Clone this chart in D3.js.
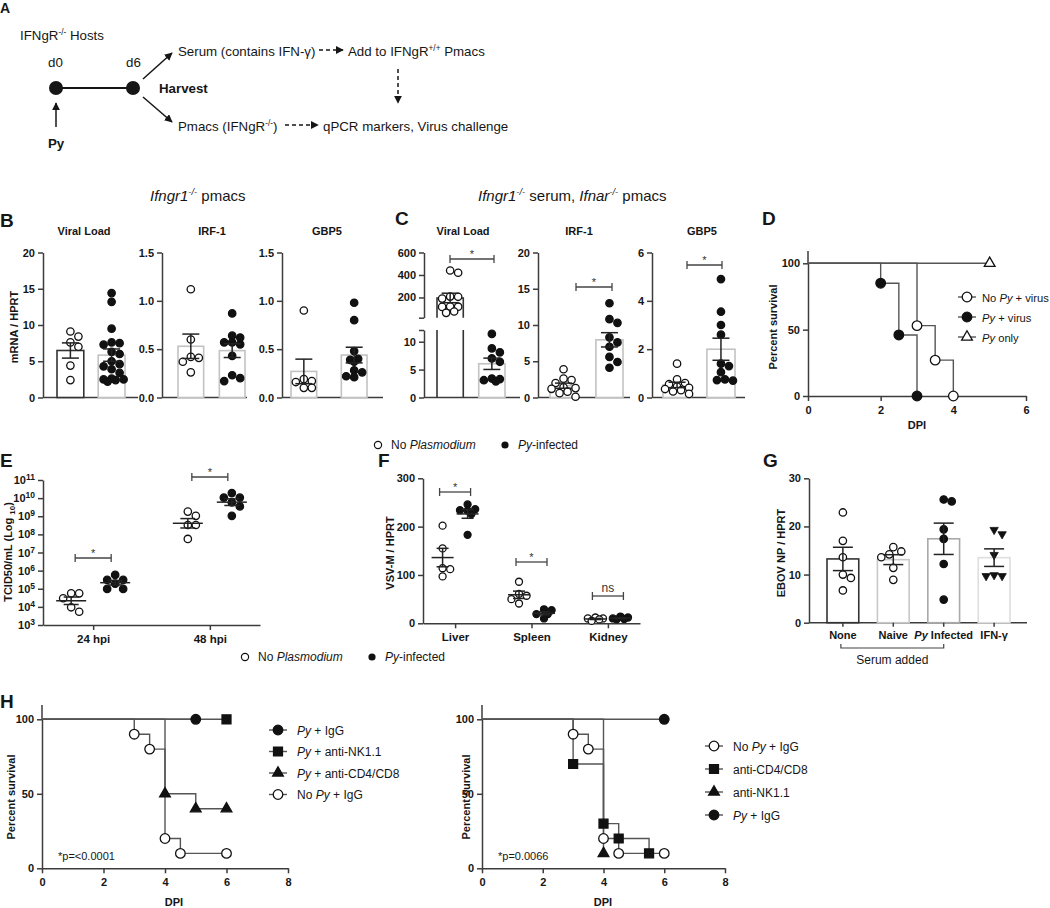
<!DOCTYPE html>
<html><head><meta charset="utf-8">
<script src="https://cdn.jsdelivr.net/npm/d3@7/dist/d3.min.js"></script>
<style>html,body{margin:0;padding:0;background:#fff;} svg{display:block;} text{white-space:pre;}</style>
</head><body>
<svg id="fig" width="1050" height="908"></svg>
<script>
// ================= DATA =================
const groupNames = ["No Plasmodium", "Py-infected"];
const markerTitles = ["Viral Load", "IRF-1", "GBP5"];
// B: Ifngr1-/- pmacs (mRNA / HPRT)
const bViralNo = [9.1, 8.4, 7.6, 7.0, 4.4, 2.4];
const bViralPy = [14.4, 13.2, 9.5, 7.6, 7.5, 7.3, 6.3, 6.0, 5.0, 4.6, 4.3, 3.9, 3.4, 2.6, 2.5, 2.5, 2.4, 2.2];
const bIrfNo = [1.12, 0.60, 0.42, 0.41, 0.37, 0.26];
const bIrfPy = [0.87, 0.64, 0.62, 0.57, 0.57, 0.55, 0.43, 0.23, 0.20, 0.17];
const bGbpNo = [0.90, 0.19, 0.17, 0.16, 0.10, 0.10];
const bGbpPy = [0.98, 0.80, 0.48, 0.40, 0.39, 0.37, 0.28, 0.26, 0.22, 0.21];
const bTicksViral = [0, 5, 10, 15, 20];
const bTicksRatio = [0, 0.5, 1.0, 1.5];
// C: Ifngr1-/- serum, Ifnar-/- pmacs
const cViralNo = [440, 420, 208, 206, 190, 120, 118, 116, 75, 63];
const cViralPy = [11.4, 8.8, 8.1, 7.0, 6.4, 3.4, 3.3, 3.1, 2.9];
const cIrfNo = [3.9, 2.6, 2.4, 2.0, 1.4, 1.3, 1.2, 0.8, 0.6, 0.1];
const cIrfPy = [13.0, 10.8, 10.3, 8.3, 7.6, 7.0, 5.6, 4.9, 4.1];
const cGbpNo = [1.4, 0.75, 0.6, 0.55, 0.45, 0.4, 0.35, 0.3, 0.25, 0.15];
const cGbpPy = [4.9, 3.55, 3.0, 2.6, 1.4, 1.3, 1.05, 0.75, 0.72, 0.7];
const cTicksViralUpper = [200, 400, 600];
const cTicksViralLower = [0, 5, 10];
const cTicksIrf = [0, 5, 10, 15, 20];
const cTicksGbp = [0, 2, 4, 6];
// D: survival
const dLabels = ["No Py + virus", "Py + virus", "Py only"];
const dNoPyDays = [0, 3, 3.5, 4],   dNoPySurv = [100, 53, 27, 0];
const dPyVirDays = [0, 2, 2.5, 3],  dPyVirSurv = [100, 85, 46, 0];
const dPyOnlyDays = [0, 5],         dPyOnlySurv = [100, 100];
const survTicksY = [0, 50, 100];
const dTicksX = [0, 2, 4, 6];
// E: TCID50/mL
const eCats = ["24 hpi", "48 hpi"];
const eNo24 = [56000, 56000, 30000, 9500, 5400];
const ePy24 = [580000, 310000, 310000, 190000, 98000, 98000];
const eNo48 = [1.8e9, 1.05e9, 3.3e8, 3.3e8, 5.6e7];
const ePy48 = [1.9e10, 1.07e10, 1.07e10, 5.8e9, 3.5e9, 1.05e9];
const eTickExps = [3, 4, 5, 6, 7, 8, 9, 10, 11];
const eSig = ["*", "*"];
// F: VSV-M / HPRT
const fCats = ["Liver", "Spleen", "Kidney"];
const fNoLiver = [202, 155, 114, 112, 97],  fPyLiver = [246, 236, 234, 233, 226, 183];
const fNoSpleen = [86, 61, 57, 50, 41],     fPySpleen = [29, 27, 19, 19, 10];
const fNoKidney = [12, 10, 10, 8, 5],       fPyKidney = [14, 12, 10, 9, 8];
const fTicks = [0, 100, 200, 300];
const fSig = ["*", "*", "ns"];
// G: EBOV NP / HPRT
const gCats = ["None", "Naive", "Py Infected", "IFN-γ"];
const gNone = [22.9, 17.0, 13.6, 10.0, 9.3, 6.7];
const gNaive = [15.7, 14.8, 14.2, 13.6, 11.4, 8.9];
const gPy = [25.6, 25.2, 19.4, 17.4, 12.2, 4.8];
const gIfn = [19.3, 18.4, 14.1, 9.9, 9.7, 9.7];
const gTicks = [0, 10, 20, 30];
// H: survival
const hTicksX = [0, 2, 4, 6, 8];
const hlLabels = ["Py + IgG", "Py + anti-NK1.1", "Py + anti-CD4/CD8", "No Py + IgG"];
const hlPyIgGDays = [0, 5],                    hlPyIgGSurv = [100, 100];
const hlNKDays = [0, 6],                       hlNKSurv = [100, 100];
const hlCDDays = [0, 4, 5, 6],                 hlCDSurv = [100, 50, 40, 40];
const hlNoPyDays = [0, 3, 3.5, 4, 4.5, 6],     hlNoPySurv = [100, 90, 80, 20, 10, 10];
const hlP = "*p=<0.0001";
const hrLabels = ["No Py + IgG", "anti-CD4/CD8", "anti-NK1.1", "Py + IgG"];
const hrNoPyDays = [0, 3, 3.5, 4, 4.5, 6],     hrNoPySurv = [100, 90, 80, 20, 10, 10];
const hrCDDays = [0, 3, 4, 4.5, 5.5],          hrCDSurv = [100, 70, 30, 20, 10];
const hrNKDays = [0, 4],                       hrNKSurv = [100, 10];
const hrPyIgGDays = [0, 6],                    hrPyIgGSurv = [100, 100];
const hrP = "*p=0.0066";

// ================= HELPERS =================
const svg = d3.select("#fig");
const FONT = '"Liberation Sans", Arial, Helvetica, sans-serif';
const AX = "#3c3c3c", INK = "#161616", SURV = "#555";
const DARK = "#333", LIGHT = "#c2c2c2";

function txt(x, y, parts, o = {}) {
  const size = o.size || 12;
  const t = svg.append("text").attr("x", x).attr("y", y).attr("font-family", FONT)
    .attr("font-size", size).attr("fill", o.fill || INK).attr("text-anchor", o.anchor || "start")
    .attr("font-weight", o.bold ? "bold" : "normal");
  if (o.rotate) t.attr("transform", `rotate(-90,${x},${y})`);
  let shift = 0;
  (typeof parts === "string" ? [[parts, ""]] : parts).forEach(([s, st = ""]) => {
    const f = st.split(" ");
    const ts = t.append("tspan").text(s);
    let target = 0;
    if (f.includes("sup")) { target = -size * 0.4; ts.attr("font-size", size * 0.62); }
    if (f.includes("sub")) { target = size * 0.25; ts.attr("font-size", size * 0.72); }
    if (target !== shift) { ts.attr("dy", target - shift); shift = target; }
    if (f.includes("i")) ts.attr("font-style", "italic");
  });
  return t;
}
function pyParts(label) {
  return label.split(/(Py)/).filter(s => s.length).map(s => [s, s === "Py" ? "i" : ""]);
}
function styleAxis(g, size = 11) {
  g.attr("font-family", FONT).attr("font-size", size).attr("font-weight", "bold");
  g.select(".domain").attr("stroke", AX).attr("stroke-width", 1.5);
  g.selectAll(".tick line").attr("stroke", AX).attr("stroke-width", 1.5);
  g.selectAll(".tick text").attr("fill", INK);
  return g;
}
function yAxis(x, scale, ticks, fmt, o = {}) {
  const g = svg.append("g").attr("transform", `translate(${x},0)`)
    .call(d3.axisLeft(scale).tickValues(ticks).tickFormat(fmt).tickSizeOuter(0).tickSizeInner(o.tick || 5).tickPadding(3));
  return styleAxis(g, o.size || 11);
}
function hLine(x1, x2, y, color = AX, w = 1.5) {
  svg.append("line").attr("x1", x1).attr("x2", x2).attr("y1", y).attr("y2", y).attr("stroke", color).attr("stroke-width", w);
}
function stats(v) { return { m: d3.mean(v), s: d3.deviation(v) / Math.sqrt(v.length) }; }
// deterministic swarm: each point takes the nearest free horizontal slot within maxHalf
function swarm(vals, y, cx, r, maxHalf, gap = 0.6) {
  const pts = vals.map(v => ({ v, py: y(v) })).sort((a, b) => a.py - b.py);
  const placed = [], d = 2 * r + gap;
  const cands = [0];
  for (let k = 1; k < 30; k++) { const o = k * d / 2; if (o > maxHalf + 0.01) break; cands.push(o, -o); }
  pts.forEach(p => {
    let best = null, bestD = -1;
    for (const c of cands) {
      const px = cx + c;
      const md = placed.length ? d3.min(placed, q => Math.hypot(q.px - px, q.py - p.py)) : Infinity;
      if (md >= d - 0.01) { best = px; break; }
      if (md > bestD + 0.5) { bestD = md; best = px; }
    }
    p.px = best;
    placed.push(p);
  });
  return pts;
}
function drawPts(g, pts, filled, r, shape) {
  if (shape === "invTri") {
    g.selectAll(null).data(pts).join("path")
      .attr("d", d3.symbol().type(d3.symbolTriangle).size(30)())
      .attr("transform", d => `translate(${d.px},${d.py}) rotate(180)`)
      .attr("fill", "#111").attr("stroke", "#111").attr("stroke-width", 0.8);
    return;
  }
  g.selectAll(null).data(pts).join("circle").attr("cx", d => d.px).attr("cy", d => d.py).attr("r", r)
    .attr("fill", filled ? "#111" : "#fff").attr("stroke", "#111").attr("stroke-width", 1.3);
}
function errBar(g, cx, y, st, capW, meanW) {
  const col = "#222";
  const yT = y(st.m + st.s), yB = y(Math.max(st.m - st.s, y.domain()[0]));
  g.append("line").attr("x1", cx).attr("x2", cx).attr("y1", yT).attr("y2", yB).attr("stroke", col).attr("stroke-width", 1.5);
  [yT, yB].forEach(yy => g.append("line").attr("x1", cx - capW / 2).attr("x2", cx + capW / 2).attr("y1", yy).attr("y2", yy).attr("stroke", col).attr("stroke-width", 1.5));
  if (meanW) g.append("line").attr("x1", cx - meanW / 2).attr("x2", cx + meanW / 2).attr("y1", y(st.m)).attr("y2", y(st.m)).attr("stroke", col).attr("stroke-width", 1.5);
}
function bracket(x1, x2, y, label) {
  hLine(x1, x2, y, "#444", 1.3);
  [x1, x2].forEach(x => svg.append("line").attr("x1", x).attr("x2", x).attr("y1", y - 4).attr("y2", y + 4).attr("stroke", "#444").attr("stroke-width", 1.3));
  txt((x1 + x2) / 2, label === "*" ? y - 1 : y - 4, label, { size: label === "*" ? 11 : 12, anchor: "middle", fill: "#333" });
}
function panelLetter(x, y, s, size = 19) { txt(x, y, s, { bold: true, size }); }
function axisTitle(x, y, parts) { txt(x, y, parts, { bold: true, size: 11, anchor: "middle", rotate: true }); }

// bar + dot subplot
function barPanel(c) {
  const y = d3.scaleLinear().domain(c.domain).range([c.yBot, c.yTop]);
  yAxis(c.axisX, y, c.ticks, c.fmt);
  hLine(c.axisX, c.axisEnd, c.yBot);
  const xb = d3.scaleBand().domain(c.series.map((s, i) => i)).range(c.barRange).paddingInner(c.pad);
  const g = svg.append("g");
  const r = c.r || 3.7;
  const half = xb.bandwidth() / 2 - r * 0.3;
  c.series.forEach((s, i) => {
    const st = stats(s.vals);
    g.append("rect").attr("x", xb(i)).attr("y", y(st.m)).attr("width", xb.bandwidth()).attr("height", c.yBot - y(st.m))
      .attr("fill", "#fff").attr("stroke", s.stroke).attr("stroke-width", 1.6);
  });
  c.series.forEach((s, i) => drawPts(g, swarm(s.vals, y, xb(i) + xb.bandwidth() / 2, r, half), s.filled, r, s.shape));
  c.series.forEach((s, i) => errBar(g, xb(i) + xb.bandwidth() / 2, y, stats(s.vals), c.capW || 17));
  if (c.title) txt(c.titleX, c.titleY, c.title, { bold: true, size: 11, anchor: "middle" });
  return { y, xb };
}

function sym(x, y, shape, filled) {
  const sizes = { circle: 72, square: 80, triangle: 50 };
  const types = { circle: d3.symbolCircle, square: d3.symbolSquare, triangle: d3.symbolTriangle };
  svg.append("path").attr("d", d3.symbol().type(types[shape]).size(sizes[shape])())
    .attr("transform", `translate(${x},${y})`)
    .attr("fill", filled ? "#111" : "#fff").attr("stroke", "#111").attr("stroke-width", 1.3);
}
// survival subplot
function survPanel(c) {
  const x = d3.scaleLinear().domain([0, c.xmax]).range([c.x0, c.x1]);
  const y = d3.scaleLinear().domain([0, 100]).range([c.yBot, c.yTop]);
  yAxis(c.x0, y, survTicksY, d3.format("d"));
  svg.append("line").attr("x1", c.x0).attr("x2", c.x0).attr("y1", c.yTop).attr("y2", c.axisTop).attr("stroke", AX).attr("stroke-width", 1.5);
  const gx = svg.append("g").attr("transform", `translate(0,${c.yBot})`)
    .call(d3.axisBottom(x).tickValues(c.xticks).tickFormat(d3.format("d")).tickSizeOuter(0).tickSizeInner(5).tickPadding(5));
  styleAxis(gx, 11);
  const line = d3.line().x(d => x(d[0])).y(d => y(d[1])).curve(d3.curveStepAfter);
  const drawOrder = c.drawOrder || c.curves.map((_, i) => i);
  drawOrder.forEach(i => {
    const cv = c.curves[i];
    svg.append("path").attr("d", line(cv.days.map((d, k) => [d, cv.surv[k]])))
      .attr("fill", "none").attr("stroke", SURV).attr("stroke-width", 1.4);
  });
  drawOrder.forEach(i => { const cv = c.curves[i]; cv.days.forEach((d, k) => { if (k > 0) sym(x(d), y(cv.surv[k]), cv.shape, cv.filled); }); });
  c.curves.forEach((cv, i) => {
    const ly = c.legY + i * c.legStep;
    hLine(c.legX - 9, c.legX + 9, ly, SURV, 1.4);
    sym(c.legX, ly, cv.shape, cv.filled);
    txt(c.legTextX, ly + 4.5, pyParts(cv.label), { size: c.legSize || 12 });
  });
  txt(c.dpiX, c.dpiY, "DPI", { bold: true, size: 11, anchor: "middle" });
  return { x, y };
}

// ================= PANEL A =================
const defs = svg.append("defs");
defs.append("marker").attr("id", "ah").attr("viewBox", "0 0 10 10").attr("refX", 9).attr("refY", 5)
  .attr("markerWidth", 8).attr("markerHeight", 8).attr("markerUnits", "userSpaceOnUse").attr("orient", "auto")
  .append("path").attr("d", "M0,0L10,5L0,10z").attr("fill", INK);
function arrow(x1, y1, x2, y2, dashed) {
  const l = svg.append("line").attr("x1", x1).attr("y1", y1).attr("x2", x2).attr("y2", y2)
    .attr("stroke", INK).attr("stroke-width", 1.5).attr("marker-end", "url(#ah)");
  if (dashed) l.attr("stroke-dasharray", "4,3");
}
const AS = 13.3;
panelLetter(0, 13, "A", 14);
txt(20, 40, [["IFNgR"], ["-/-", "sup"], [" Hosts"]], { size: AS });
txt(48, 67, "d0", { size: AS });
txt(126, 67, "d6", { size: AS });
svg.append("line").attr("x1", 56).attr("x2", 133).attr("y1", 88).attr("y2", 88).attr("stroke", INK).attr("stroke-width", 2);
[56, 133].forEach(cx => svg.append("circle").attr("cx", cx).attr("cy", 88).attr("r", 7).attr("fill", INK));
arrow(56, 127, 56, 103);
txt(48, 148, "Py", { size: AS, bold: true });
arrow(143, 79, 172, 53);
arrow(143, 97, 172, 122);
txt(159, 93, "Harvest", { size: AS, bold: true });
txt(178, 56, "Serum (contains IFN-γ)", { size: AS });
arrow(319, 50, 343, 50, true);
txt(348, 56, [["Add to IFNgR"], ["+/+", "sup"], [" Pmacs"]], { size: AS });
arrow(398, 69, 398, 103, true);
txt(178, 131, [["Pmacs (IFNgR"], ["-/-", "sup"], [")"]], { size: AS });
arrow(285, 125, 318, 125, true);
txt(323, 131, "qPCR markers, Virus challenge", { size: AS });

// ================= PANEL B =================
txt(150, 201, [["Ifngr1", "i"], ["-/-", "sup i"], [" pmacs"]], { size: 15 });
panelLetter(0, 227, "B");
axisTitle(18, 327, "mRNA / HPRT");
const BC_TOP = 252.5, BC_BOT = 397.5;
const fmt1 = d3.format(".1f");
barPanel({ axisX: 43, axisEnd: 138, yTop: BC_TOP, yBot: BC_BOT, domain: [0, 20], ticks: bTicksViral, fmt: d3.format("d"),
  barRange: [57, 125], pad: 0.35, title: markerTitles[0], titleX: 84, titleY: 235,
  series: [{ vals: bViralNo, filled: false, stroke: DARK }, { vals: bViralPy, filled: true, stroke: LIGHT }] });
barPanel({ axisX: 162, axisEnd: 247, yTop: BC_TOP, yBot: BC_BOT, domain: [0, 1.5], ticks: bTicksRatio, fmt: fmt1,
  barRange: [178, 245], pad: 0.38, title: markerTitles[1], titleX: 212, titleY: 235,
  series: [{ vals: bIrfNo, filled: false, stroke: LIGHT }, { vals: bIrfPy, filled: true, stroke: LIGHT }] });
barPanel({ axisX: 282, axisEnd: 383, yTop: BC_TOP, yBot: BC_BOT, domain: [0, 1.5], ticks: bTicksRatio, fmt: fmt1,
  barRange: [291, 367], pad: 0.49, title: markerTitles[2], titleX: 327, titleY: 235,
  series: [{ vals: bGbpNo, filled: false, stroke: LIGHT }, { vals: bGbpPy, filled: true, stroke: LIGHT }] });

// ================= PANEL C =================
txt(478, 201, [["Ifngr1", "i"], ["-/-", "sup i"], [" serum, "], ["Ifnar", "i"], ["-/-", "sup i"], [" pmacs"]], { size: 15 });
panelLetter(395, 225, "C");
(function () {
  const axX = 424, upBot = 317.7, loTop = 330;
  const yUp = d3.scaleLinear().domain([20, 600]).range([upBot, BC_TOP]);
  const yLo = d3.scaleLinear().domain([0, 12.1]).range([BC_BOT, loTop]);
  yAxis(axX, yUp, [20].concat(cTicksViralUpper), d => d === 20 ? "" : d);
  yAxis(axX, yLo, cTicksViralLower.concat([12.1]), d => d > 11 ? "" : d);
  hLine(axX, 520, BC_BOT);
  const xb = d3.scaleBand().domain([0, 1]).range([437, 505]).paddingInner(0.37);
  const g = svg.append("g");
  const r = 3.7, half = xb.bandwidth() / 2 - 1;
  const sNo = stats(cViralNo), sPy = stats(cViralPy);
  const x0 = xb(0), x1 = xb(0) + xb.bandwidth();
  g.append("path").attr("d", `M${x0},${upBot}V${yUp(sNo.m)}H${x1}V${upBot}M${x0},${loTop}V${BC_BOT}M${x1},${loTop}V${BC_BOT}`)
    .attr("fill", "none").attr("stroke", DARK).attr("stroke-width", 1.6);
  g.append("rect").attr("x", xb(1)).attr("y", yLo(sPy.m)).attr("width", xb.bandwidth()).attr("height", BC_BOT - yLo(sPy.m))
    .attr("fill", "#fff").attr("stroke", LIGHT).attr("stroke-width", 1.6);
  drawPts(g, swarm(cViralNo, yUp, xb(0) + xb.bandwidth() / 2, r, half), false, r);
  drawPts(g, swarm(cViralPy, yLo, xb(1) + xb.bandwidth() / 2, r, half), true, r);
  errBar(g, xb(0) + xb.bandwidth() / 2, yUp, sNo, 17);
  errBar(g, xb(1) + xb.bandwidth() / 2, yLo, sPy, 17);
  txt(463, 235, markerTitles[0], { bold: true, size: 11, anchor: "middle" });
  bracket(450, 494, 259, "*");
})();
barPanel({ axisX: 538, axisEnd: 630, yTop: BC_TOP, yBot: BC_BOT, domain: [0, 20], ticks: cTicksIrf, fmt: d3.format("d"),
  barRange: [550, 623], pad: 0.41, title: markerTitles[1], titleX: 579, titleY: 235,
  series: [{ vals: cIrfNo, filled: false, stroke: LIGHT }, { vals: cIrfPy, filled: true, stroke: LIGHT }] });
bracket(576, 612, 287, "*");
barPanel({ axisX: 652, axisEnd: 745, yTop: BC_TOP, yBot: BC_BOT, domain: [0, 6], ticks: cTicksGbp, fmt: d3.format("d"),
  barRange: [663, 735], pad: 0.36, title: markerTitles[2], titleX: 702, titleY: 235,
  series: [{ vals: cGbpNo, filled: false, stroke: LIGHT }, { vals: cGbpPy, filled: true, stroke: LIGHT }] });
bracket(687, 722, 265, "*");
function groupLegend(x1, x2, y) {
  svg.append("circle").attr("cx", x1).attr("cy", y - 4).attr("r", 3.6).attr("fill", "#fff").attr("stroke", "#111").attr("stroke-width", 1.2);
  txt(x1 + 13, y, [["No "], ["Plasmodium", "i"]], { size: 12 });
  svg.append("circle").attr("cx", x2).attr("cy", y - 4).attr("r", 3.6).attr("fill", "#111");
  txt(x2 + 13, y, [["Py", "i"], ["-infected"]], { size: 12 });
}
groupLegend(378, 505, 449);

// ================= PANEL D =================
panelLetter(762, 225, "D");
axisTitle(777, 327, "Percent survival");
survPanel({ x0: 808, x1: 1026, xmax: 6, xticks: dTicksX, yTop: 263.3, yBot: 396, axisTop: 251,
  dpiX: 917, dpiY: 429, legX: 967, legTextX: 982, legY: 297, legStep: 20, legSize: 11.2,
  drawOrder: [2, 0, 1],
  curves: [
    { label: dLabels[0], days: dNoPyDays, surv: dNoPySurv, shape: "circle", filled: false },
    { label: dLabels[1], days: dPyVirDays, surv: dPyVirSurv, shape: "circle", filled: true },
    { label: dLabels[2], days: dPyOnlyDays, surv: dPyOnlySurv, shape: "triangle", filled: false }
  ] });

// ================= PANEL E =================
panelLetter(0, 467, "E");
(function () {
  const y = d3.scaleLog().domain([1e3, 1e11]).range([625, 480]);
  const x = d3.scalePoint().domain(eCats).range([43, 260]).padding(0.43);
  const off = d3.scalePoint().domain(groupNames).range([-22, 22]);
  const gy = yAxis(43, y, eTickExps.map(e => 10 ** e), d => d);
  gy.selectAll(".tick text").each(function (d) {
    const t = d3.select(this); t.text(null);
    t.append("tspan").text("10");
    t.append("tspan").attr("dy", "-0.45em").attr("font-size", 8.5).text(Math.round(Math.log10(d)));
  });
  const gx = svg.append("g").attr("transform", "translate(0,625)")
    .call(d3.axisBottom(x).tickSizeOuter(0).tickSizeInner(5).tickPadding(5));
  styleAxis(gx, 11.5);
  const g = svg.append("g"), r = 3.7;
  const ly = d3.scaleLinear().domain([3, 11]).range(y.range());
  const sets = [[eNo24, ePy24], [eNo48, ePy48]];
  sets.forEach((pair, ci) => pair.forEach((vals, gi) => {
    const cx = x(eCats[ci]) + off(groupNames[gi]);
    drawPts(g, swarm(vals, y, cx, r, 13), gi === 1, r);
    errBar(g, cx, ly, stats(vals.map(v => Math.log10(v))), 15, 30);
  }));
  sets.forEach((pair, ci) => {
    bracket(x(eCats[ci]) + off(groupNames[0]) + 4, x(eCats[ci]) + off(groupNames[1]) - 4, ci === 0 ? 558 : 477, eSig[ci]);
  });
  axisTitle(12, 552, [["TCID50/mL (Log "], ["10", "sub"], [")"]]);
})();

// ================= PANEL F =================
panelLetter(378, 467, "F");
(function () {
  const y = d3.scaleLinear().domain([0, 300]).range([623.3, 478.3]);
  const x = d3.scalePoint().domain(fCats).range([423, 640]).padding(0.42);
  const off = d3.scalePoint().domain(groupNames).range([-12.5, 12.5]);
  yAxis(423, y, fTicks, d3.format("d"));
  const gx = svg.append("g").attr("transform", "translate(0,623.3)")
    .call(d3.axisBottom(x).tickSizeOuter(0).tickSizeInner(5).tickPadding(5));
  styleAxis(gx, 11.5);
  const g = svg.append("g"), r = 3.5;
  const sets = [[fNoLiver, fPyLiver], [fNoSpleen, fPySpleen], [fNoKidney, fPyKidney]];
  const brY = [492, 562, 596];
  sets.forEach((pair, ci) => {
    pair.forEach((vals, gi) => {
      const cx = x(fCats[ci]) + off(groupNames[gi]);
      drawPts(g, swarm(vals, y, cx, r, 11), gi === 1, r);
      errBar(g, cx, y, stats(vals), 12, 22);
    });
    bracket(x(fCats[ci]) + off(groupNames[0]) - 3, x(fCats[ci]) + off(groupNames[1]) + 3, brY[ci], fSig[ci]);
  });
  axisTitle(394, 553, "VSV-M / HPRT");
})();
groupLegend(245, 372, 661);

// ================= PANEL G =================
panelLetter(763, 467, "G");
(function () {
  const res = barPanel({ axisX: 809, axisEnd: 1027, yTop: 478.3, yBot: 622.7, domain: [0, 30], ticks: gTicks, fmt: d3.format("d"),
    barRange: [827, 1010], pad: 0.37, capW: 20, r: 3.7,
    series: [{ vals: gNone, filled: false, stroke: DARK }, { vals: gNaive, filled: false, stroke: "#c8c8c8" },
             { vals: gPy, filled: true, stroke: "#a9a9a9" }, { vals: gIfn, filled: true, stroke: "#dedede", shape: "invTri" }] });
  const xb = res.xb;
  gCats.forEach((c, i) => {
    const cx = xb(i) + xb.bandwidth() / 2;
    svg.append("line").attr("x1", cx).attr("x2", cx).attr("y1", 622.7).attr("y2", 626.7).attr("stroke", AX).attr("stroke-width", 1.5);
    txt(cx, 639, pyParts(c), { bold: true, size: 11, anchor: "middle" });
  });
  const sx1 = xb(0) + xb.bandwidth() / 2 - 2, sx2 = xb(2) + xb.bandwidth() / 2;
  svg.append("path").attr("d", `M${sx1},644V648H${sx2}V644`).attr("fill", "none").attr("stroke", "#444").attr("stroke-width", 1.2);
  txt((sx1 + sx2) / 2, 664, "Serum added", { size: 12, anchor: "middle" });
  axisTitle(785, 553, "EBOV NP / HPRT");
})();

// ================= PANEL H =================
panelLetter(0, 708, "H");
axisTitle(15, 797, "Percent survival");
survPanel({ x0: 42, x1: 288, xmax: 8, xticks: hTicksX, yTop: 719.3, yBot: 868.3, axisTop: 705,
  dpiX: 174, dpiY: 906, legX: 278, legTextX: 297, legY: 730, legStep: 21.5,
  curves: [
    { label: hlLabels[0], days: hlPyIgGDays, surv: hlPyIgGSurv, shape: "circle", filled: true },
    { label: hlLabels[1], days: hlNKDays, surv: hlNKSurv, shape: "square", filled: true },
    { label: hlLabels[2], days: hlCDDays, surv: hlCDSurv, shape: "triangle", filled: true },
    { label: hlLabels[3], days: hlNoPyDays, surv: hlNoPySurv, shape: "circle", filled: false }
  ] });
txt(58, 860, hlP, { size: 11 });
axisTitle(470, 797, "Percent survival");
survPanel({ x0: 482, x1: 725, xmax: 8, xticks: hTicksX, yTop: 719.3, yBot: 868.3, axisTop: 705,
  dpiX: 603, dpiY: 906, legX: 714, legTextX: 733, legY: 746, legStep: 23,
  curves: [
    { label: hrLabels[0], days: hrNoPyDays, surv: hrNoPySurv, shape: "circle", filled: false },
    { label: hrLabels[1], days: hrCDDays, surv: hrCDSurv, shape: "square", filled: true },
    { label: hrLabels[2], days: hrNKDays, surv: hrNKSurv, shape: "triangle", filled: true },
    { label: hrLabels[3], days: hrPyIgGDays, surv: hrPyIgGSurv, shape: "circle", filled: true }
  ] });
txt(498, 860, hrP, { size: 11 });
</script>
</body></html>
